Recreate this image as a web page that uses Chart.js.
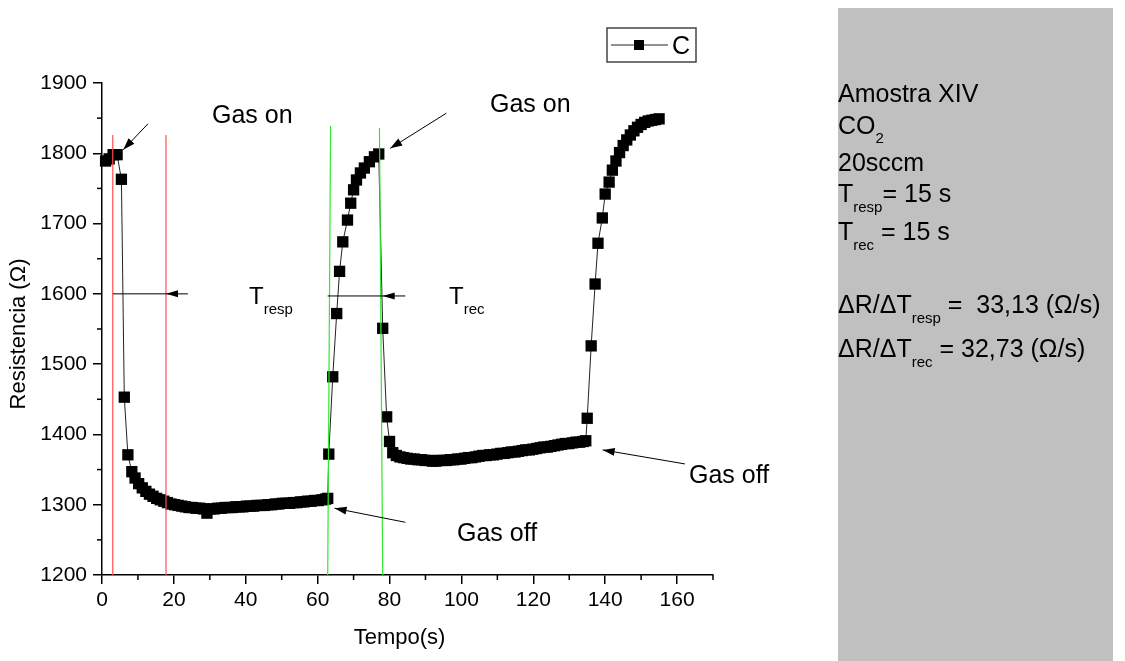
<!DOCTYPE html>
<html><head><meta charset="utf-8">
<script src="https://cdn.jsdelivr.net/npm/chart.js@4/dist/chart.umd.min.js"></script>
<style>html,body{margin:0;padding:0;background:#fff;overflow:hidden}canvas{display:block}</style>
</head><body>
<canvas id="c" width="1125" height="661" style="width:1125px;height:661px"></canvas>
<script>
// ---- data ----
const seriesLabel = 'C';
// time (s)
const tempo = [
  1.0, 2.0, 3.1, 4.2, 5.4, 6.2, 7.2, 8.3,
  9.2, 10.2, 11.2, 12.2, 13.2, 14.2, 15.2, 16.2, 17.2, 18.2, 19.2, 20.2,
  21.2, 22.2, 23.2, 24.2, 25.2, 26.2, 27.2, 28.2, 29.2, 30.2,
  31.2, 32.2, 33.2, 34.2, 35.2, 36.2, 37.2, 38.2, 39.2, 40.2,
  41.2, 42.2, 43.2, 44.2, 45.2, 46.2, 47.2, 48.2, 49.2, 50.2,
  51.2, 52.2, 53.2, 54.2, 55.2, 56.2, 57.2, 58.2, 59.2, 60.2,
  61.2, 62.2, 62.8,
  63.1, 64.2, 65.3, 66.1, 67.0, 68.3, 69.2, 70.0, 70.8, 71.9, 73.0, 74.4, 75.8, 77.0,
  78.1, 79.2, 80.0, 80.9,
  81.9, 82.9, 83.9, 84.9, 85.9, 86.9, 87.9, 88.9, 89.9, 90.9,
  91.9, 92.9, 93.9, 94.9, 95.9, 96.9, 97.9, 98.9, 99.9, 100.9,
  101.9, 102.9, 103.9, 104.9, 105.9, 106.9, 107.9, 108.9, 109.9, 110.9,
  111.9, 112.9, 113.9, 114.9, 115.9, 116.9, 117.9, 118.9, 119.9, 120.9,
  121.9, 122.9, 123.9, 124.9, 125.9, 126.9, 127.9, 128.9, 129.9, 130.9,
  131.9, 132.9, 133.9, 134.6,
  135.0, 136.1, 137.2, 138.0, 139.2, 140.0, 141.1, 142.0, 143.0, 144.0,
  145.0, 146.0, 147.0, 148.0, 149.0, 150.0, 151.0, 152.0, 153.0, 154.0, 155.0
];
// resistance (Ohm)
const resistencia = [
  1789, 1792, 1798, 1798, 1763, 1453, 1371, 1347,
  1338, 1330, 1324, 1319, 1315, 1312, 1309, 1307, 1305, 1303, 1301, 1300,
  1299, 1298, 1297, 1296, 1296, 1295, 1295, 1294, 1288, 1294,
  1294, 1295, 1295, 1296, 1296, 1296, 1297, 1297, 1297, 1298,
  1298, 1298, 1299, 1299, 1299, 1300, 1300, 1301, 1301, 1302,
  1302, 1302, 1303, 1303, 1304, 1304, 1305, 1305, 1306, 1306,
  1307, 1308, 1309,
  1372, 1482, 1572, 1632, 1674, 1705, 1729, 1748, 1762, 1772, 1779, 1788, 1795, 1799,
  1551, 1425, 1390, 1374,
  1370, 1368, 1367, 1366, 1365, 1365, 1364, 1364, 1363, 1363,
  1362, 1362, 1363, 1363, 1363, 1364, 1364, 1365, 1365, 1366,
  1367, 1367, 1368, 1369, 1370, 1370, 1371, 1371, 1372, 1373,
  1373, 1374, 1375, 1375, 1376, 1377, 1378, 1378, 1379, 1380,
  1381, 1382, 1382, 1383, 1384, 1385, 1386, 1387, 1387, 1388,
  1389, 1389, 1390, 1391,
  1423, 1526, 1614, 1672, 1708, 1742, 1759, 1776, 1789, 1801,
  1811, 1819, 1826, 1832, 1837, 1841, 1844, 1846, 1847, 1848, 1849
];
const xTicks = [0, 20, 40, 60, 80, 100, 120, 140, 160];
const yTicks = [1200, 1300, 1400, 1500, 1600, 1700, 1800, 1900];
const xMinor = [10, 30, 50, 70, 90, 110, 130, 150, 170];
const yMinor = [1250, 1350, 1450, 1550, 1650, 1750, 1850];
// annotation guide lines in data units: [t_top, R_top, t_bottom, R_bottom]
const redLines = [[3.0, 1826, 3.0, 1200], [17.8, 1826, 17.8, 1200]];
const greenLines = [[63.6, 1839, 62.8, 1200], [77.2, 1836, 78.1, 1200]];
// horizontal arrows: [t_start, t_end, t_tip, R]
const hArrows = [[3.0, 23.9, 17.8, 1600], [62.8, 84.4, 78.1, 1597]];
// diagonal arrows: [t_from, R_from, t_tip, R_tip]
const dArrows = [[12.8, 1842, 5.9, 1805], [95.8, 1857, 80.2, 1807], [84.4, 1275, 64.7, 1295], [162.2, 1358, 139.3, 1378]];

const FONT = '"Liberation Sans", Arial, sans-serif';

function arrowHead(ctx, tx, ty, fx, fy, len, half) {
  const a = Math.atan2(ty - fy, tx - fx);
  ctx.beginPath();
  ctx.moveTo(tx, ty);
  ctx.lineTo(tx - len * Math.cos(a) + half * Math.sin(a), ty - len * Math.sin(a) - half * Math.cos(a));
  ctx.lineTo(tx - len * Math.cos(a) - half * Math.sin(a), ty - len * Math.sin(a) + half * Math.cos(a));
  ctx.closePath();
  ctx.fill();
}
function subText(ctx, x, y, main, sub, rest, size, subSize, subDrop) {
  ctx.font = size + 'px ' + FONT;
  ctx.fillText(main, x, y);
  let w = ctx.measureText(main).width;
  ctx.font = subSize + 'px ' + FONT;
  ctx.fillText(sub, x + w, y + subDrop);
  w += ctx.measureText(sub).width;
  if (rest) { ctx.font = size + 'px ' + FONT; ctx.fillText(rest, x + w, y); }
}

const deco = {
  id: 'deco',
  beforeDraw(chart) {
    const ctx = chart.ctx;
    ctx.save();
    ctx.fillStyle = '#fff';
    ctx.fillRect(0, 0, chart.width, chart.height);
    ctx.fillStyle = '#c0c0c0';
    ctx.fillRect(838, 8, 275, 653);
    ctx.restore();
  },
  afterDraw(chart) {
    const ctx = chart.ctx, xs = chart.scales.x, ys = chart.scales.y;
    const X = v => xs.getPixelForValue(v), Y = v => ys.getPixelForValue(v);
    ctx.save();
    // minor ticks
    ctx.strokeStyle = '#000'; ctx.lineWidth = 1.5;
    xMinor.forEach(v => { ctx.beginPath(); ctx.moveTo(X(v), ys.bottom); ctx.lineTo(X(v), ys.bottom + 5); ctx.stroke(); });
    yMinor.forEach(v => { ctx.beginPath(); ctx.moveTo(xs.left, Y(v)); ctx.lineTo(xs.left - 5, Y(v)); ctx.stroke(); });
    // guide lines
    ctx.lineWidth = 1.2;
    ctx.strokeStyle = '#ff5050';
    redLines.forEach(l => { ctx.beginPath(); ctx.moveTo(X(l[0]), Y(l[1])); ctx.lineTo(X(l[2]), Y(l[3])); ctx.stroke(); });
    ctx.strokeStyle = '#33e633';
    greenLines.forEach(l => { ctx.beginPath(); ctx.moveTo(X(l[0]), Y(l[1])); ctx.lineTo(X(l[2]), Y(l[3])); ctx.stroke(); });
    // arrows
    ctx.strokeStyle = '#000'; ctx.fillStyle = '#000'; ctx.lineWidth = 1;
    hArrows.forEach(a => {
      ctx.beginPath(); ctx.moveTo(X(a[0]), Y(a[3])); ctx.lineTo(X(a[1]), Y(a[3])); ctx.stroke();
      arrowHead(ctx, X(a[2]), Y(a[3]), X(a[2]) + 20, Y(a[3]), 12, 3.5);
    });
    dArrows.forEach(a => {
      ctx.beginPath(); ctx.moveTo(X(a[0]), Y(a[1])); ctx.lineTo(X(a[2]), Y(a[3])); ctx.stroke();
      arrowHead(ctx, X(a[2]), Y(a[3]), X(a[0]), Y(a[1]), 12, 4);
    });
    // annotation texts
    ctx.fillStyle = '#000'; ctx.textBaseline = 'alphabetic'; ctx.textAlign = 'left';
    ctx.font = '25px ' + FONT;
    ctx.fillText('Gas on', 212, 123);
    ctx.fillText('Gas on', 490, 112);
    ctx.fillText('Gas off', 457, 541);
    ctx.fillText('Gas off', 689, 483);
    subText(ctx, 249, 304, 'T', 'resp', '', 24, 15, 10);
    subText(ctx, 449, 304, 'T', 'rec', '', 24, 15, 10);
    // axis titles
    ctx.font = '22px ' + FONT;
    ctx.textAlign = 'center'; ctx.textBaseline = 'middle';
    ctx.fillText('Tempo(s)', (xs.left + xs.right) / 2 - 8, 638);
    ctx.save(); ctx.translate(19, (ys.top + ys.bottom) / 2 + 5); ctx.rotate(-Math.PI / 2);
    ctx.fillText('Resistencia (\u03A9)', 0, 0); ctx.restore();
    // legend
    ctx.strokeStyle = '#444'; ctx.lineWidth = 1.5;
    ctx.strokeRect(607, 28, 89, 34);
    ctx.strokeStyle = '#222'; ctx.lineWidth = 1;
    ctx.beginPath(); ctx.moveTo(611, 45); ctx.lineTo(668, 45); ctx.stroke();
    ctx.fillStyle = '#000'; ctx.fillRect(634, 40, 10, 10);
    ctx.textAlign = 'left'; ctx.textBaseline = 'alphabetic';
    ctx.font = '25px ' + FONT;
    ctx.fillText(seriesLabel, 672, 54);
    // right panel
    ctx.font = '25px ' + FONT;
    ctx.fillText('Amostra XIV', 838, 102);
    subText(ctx, 838, 134, 'CO', '2', '', 25, 15, 9);
    ctx.font = '25px ' + FONT;
    ctx.fillText('20sccm', 838, 171);
    subText(ctx, 838, 202, 'T', 'resp', '= 15 s', 25, 15, 10);
    subText(ctx, 838, 240, 'T', 'rec', ' = 15 s', 25, 15, 10);
    subText(ctx, 838, 313, '\u0394R/\u0394T', 'resp', ' =  33,13 (\u03A9/s)', 25, 15, 10);
    subText(ctx, 838, 357, '\u0394R/\u0394T', 'rec', ' = 32,73 (\u03A9/s)', 25, 15, 10);
    ctx.restore();
  }
};

const points = tempo.map((t, i) => ({ x: t, y: resistencia[i] }));

new Chart(document.getElementById('c'), {
  type: 'scatter',
  data: { datasets: [{
    label: seriesLabel, data: points, showLine: true, clip: false,
    borderColor: '#222', borderWidth: 1, tension: 0,
    pointStyle: 'rect', pointRadius: 8, pointHoverRadius: 8,
    pointBackgroundColor: '#000', pointBorderWidth: 0
  }]},
  options: {
    responsive: false, animation: false, events: [],
    layout: { padding: { left: 0, top: 83, right: 412, bottom: 0 } },
    plugins: { legend: { display: false }, tooltip: { enabled: false } },
    scales: {
      x: {
        type: 'linear', min: 0, max: 170,
        afterFit: s => { s.height = 86; },
        afterBuildTicks: s => { s.ticks = xTicks.map(v => ({ value: v })); },
        grid: { display: true, drawOnChartArea: false, drawTicks: true, tickLength: 9, color: '#000', lineWidth: 1.5 },
        border: { display: true, color: '#000', width: 1.5 },
        ticks: { color: '#000', padding: 4, maxRotation: 0, autoSkip: false, font: { family: FONT, size: 21 }, callback: v => String(v) }
      },
      y: {
        type: 'linear', min: 1200, max: 1900,
        afterFit: s => { s.width = 102; },
        afterBuildTicks: s => { s.ticks = yTicks.map(v => ({ value: v })); },
        grid: { display: true, drawOnChartArea: false, drawTicks: true, tickLength: 9, color: '#000', lineWidth: 1.5 },
        border: { display: true, color: '#000', width: 1.5 },
        ticks: { color: '#000', padding: 6, autoSkip: false, font: { family: FONT, size: 21 }, callback: v => String(v) }
      }
    }
  },
  plugins: [deco]
});
</script>
</body></html>
